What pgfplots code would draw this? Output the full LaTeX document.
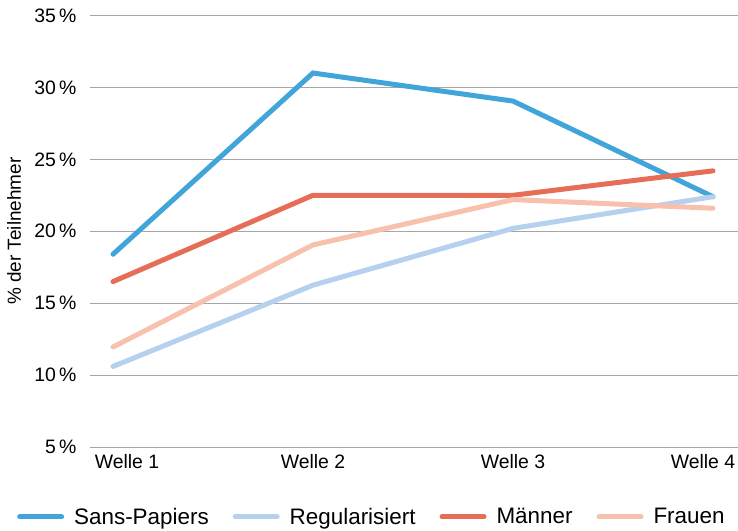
\documentclass[border=0pt]{standalone}
\usepackage{pgfplots}
\pgfplotsset{compat=1.18}
\usepackage{fontspec}
\setmainfont{Liberation Sans}
\definecolor{cSans}{HTML}{41A5DA}
\definecolor{cReg}{HTML}{B5D1ED}
\definecolor{cMan}{HTML}{E66E57}
\definecolor{cFrau}{HTML}{F7C1AE}
\definecolor{cGrid}{HTML}{A6A6A6}
\begin{document}
\begin{tikzpicture}
\useasboundingbox (0,0) rectangle (738bp,531bp);
\begin{axis}[
  at={(90bp,84bp)}, anchor=south west,
  scale only axis, width=648bp, height=431.5bp,
  xmin=-0.115, xmax=3.125, ymin=5, ymax=35,
  axis line style={draw=none},
  xtick={0,1,2,3}, xticklabels={{\hspace*{28bp}Welle 1},Welle 2,Welle 3,{Welle 4\hspace*{20bp}}},
  ytick={5,10,15,20,25,30,35},
  yticklabels={5\,\%,10\,\%,15\,\%,20\,\%,25\,\%,30\,\%,35\,\%},
  major tick length=0pt,
  ymajorgrids, grid style={cGrid, line width=0.9bp},
  tick label style={font=\fontsize{19.5}{22}\selectfont},
  yticklabel style={xshift=-10bp},
  xticklabel style={yshift=-4bp},
  ylabel={\% der Teilnehmer},
  ylabel style={font=\fontsize{19}{22}\selectfont, at={(axis description cs:-0.117,0.5)}, anchor=center, rotate=0},
  clip=false,
  legend columns=4,
  legend style={at={(axis description cs:0.435,-0.162)}, anchor=center, draw=none, fill=none,
    font=\fontsize{22.5}{26}\selectfont, column sep=0bp,
    /tikz/every odd column/.append style={column sep=8bp},
    /tikz/every even column/.append style={column sep=22bp}},
  legend image code/.code={\draw[#1, line width=5bp, line cap=round] (0bp,0bp) -- (42bp,0bp);},
  every axis plot/.append style={line width=5bp, line cap=round, line join=miter},
]
\addplot[cSans] coordinates {(0,18.4) (1,31.0) (2,29.05) (3,22.4)};
\addlegendentry{Sans-Papiers}
\addplot[cReg] coordinates {(0,10.6) (1,16.25) (2,20.2) (3,22.4)};
\addlegendentry{Regularisiert}
\addplot[cMan] coordinates {(0,16.5) (1,22.5) (2,22.5) (3,24.2)};
\addlegendentry{Männer}
\addplot[cFrau] coordinates {(0,11.95) (1,19.05) (2,22.2) (3,21.6)};
\addlegendentry{Frauen}
\end{axis}
\end{tikzpicture}
\end{document}
